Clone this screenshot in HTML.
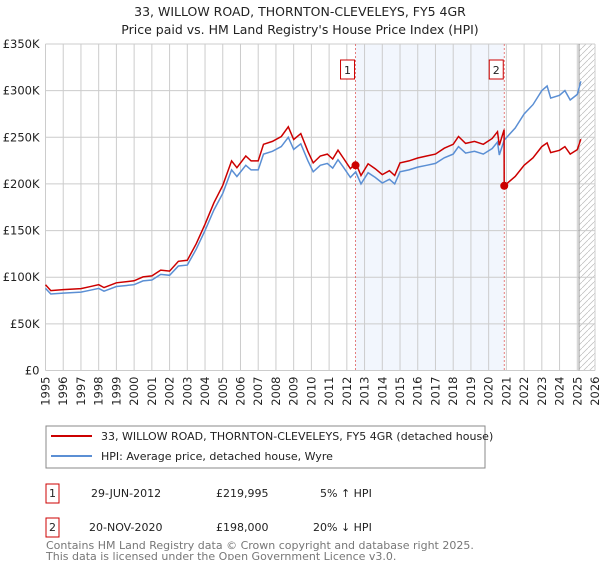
<!DOCTYPE html>
<html><head><meta charset="utf-8"><style>
body{margin:0;background:#fff;font-family:"Liberation Sans","DejaVu Sans",sans-serif;}
svg text{font-family:"DejaVu Sans","Liberation Sans",sans-serif;}
</style></head><body>
<svg id="c" width="600" height="560" xmlns="http://www.w3.org/2000/svg">
<text x="300" y="16" text-anchor="middle" font-size="12.5" fill="#222">33, WILLOW ROAD, THORNTON-CLEVELEYS, FY5 4GR</text>
<text x="300" y="34" text-anchor="middle" font-size="12.5" fill="#222">Price paid vs. HM Land Registry's House Price Index (HPI)</text>
<g id="plot"></g>
<g>
<rect x="46" y="426" width="439" height="42" fill="#fff" stroke="#888"/>
<line x1="51" y1="436" x2="92" y2="436" stroke="#cc0000" stroke-width="2"/>
<text x="101" y="440" font-size="11" fill="#222">33, WILLOW ROAD, THORNTON-CLEVELEYS, FY5 4GR (detached house)</text>
<line x1="51" y1="456" x2="92" y2="456" stroke="#5b8fd4" stroke-width="2"/>
<text x="101" y="460" font-size="11" fill="#222">HPI: Average price, detached house, Wyre</text>
</g>
<g font-size="11" fill="#222">
<rect x="46" y="484" width="13" height="19" fill="none" stroke="#cc0000"/>
<text x="49" y="497">1</text>
<text x="91" y="497">29-JUN-2012</text>
<text x="216" y="497">£219,995</text>
<text x="320" y="497">5% ↑ HPI</text>
<rect x="46" y="518" width="13" height="19" fill="none" stroke="#cc0000"/>
<text x="49" y="531">2</text>
<text x="89" y="531">20-NOV-2020</text>
<text x="216" y="531">£198,000</text>
<text x="313" y="531">20% ↓ HPI</text>
</g>
<text x="46" y="549" font-size="11" fill="#777">Contains HM Land Registry data © Crown copyright and database right 2025.</text>
<text x="46" y="560" font-size="11" fill="#777">This data is licensed under the Open Government Licence v3.0.</text>
</svg>
<script>
const yTicks=[0,50,100,150,200,250,300,350];
const yLabels=["£0","£50K","£100K","£150K","£200K","£250K","£300K","£350K"];
const xYears=[1995,1996,1997,1998,1999,2000,2001,2002,2003,2004,2005,2006,2007,2008,2009,2010,2011,2012,2013,2014,2015,2016,2017,2018,2019,2020,2021,2022,2023,2024,2025,2026];
const hpiT=[1995.0,1995.3,1996,1997,1997.5,1998,1998.3,1999,2000,2000.5,2001,2001.5,2002,2002.5,2003,2003.5,2004,2004.5,2005,2005.5,2005.8,2006.3,2006.6,2007,2007.3,2007.8,2008.3,2008.7,2009,2009.4,2009.8,2010.1,2010.5,2010.9,2011.2,2011.5,2011.8,2012.2,2012.5,2012.8,2013.2,2013.6,2014,2014.4,2014.7,2015,2015.5,2016,2016.5,2017,2017.5,2018,2018.3,2018.7,2019.2,2019.7,2020.2,2020.5,2020.6,2020.88,2021.5,2022,2022.5,2023,2023.3,2023.5,2024,2024.3,2024.6,2025,2025.2];
const hpiV=[88,82,83,84,86,88,85,90,92,96,97,103,102,112,113,130,150,172,190,215,208,220,215,215,232,235,240,250,237,243,225,213,220,222,217,226,218,207,213,200,212,207,201,205,200,213,215,218,220,222,228,232,240,233,235,232,238,245,231,247,260,275,285,300,305,292,295,300,290,296,310];
const sales=[{t:2012.49,v:219.995,label:"1"},{t:2020.88,v:198,label:"2"}];
const preRatio=1.045, postRatio=0.8;
const X0=45.5,X1=595,Y0=370.5,Y1=44,XR=595;
const xs=t=>X0+(t-1995)/(2026-1995)*(X1-X0);
const ys=v=>Y0-v/350*(Y0-Y1);
const NS="http://www.w3.org/2000/svg";
const g=document.getElementById('plot');
function mk(tag,attrs,parent){const e=document.createElementNS(NS,tag);for(const k in attrs)e.setAttribute(k,attrs[k]);(parent||g).appendChild(e);return e;}
let r=mk('rect',{x:xs(sales[0].t),y:Y1,width:xs(sales[1].t)-xs(sales[0].t),height:Y0-Y1,fill:"#f2f6fd"});


const defs=mk('defs',{});
const pat=mk('pattern',{id:"h",width:6,height:6,patternUnits:"userSpaceOnUse"},defs);
mk('path',{d:"M0,6 L6,0",stroke:"#bbb","stroke-width":0.7},pat);
let hz=mk('rect',{x:xs(2025.1),y:Y1,width:XR-xs(2025.1),height:Y0-Y1,fill:"url(#h)"});


yTicks.forEach((v,i)=>{
 let l=mk('line',{x1:X0,x2:XR,y1:ys(v),y2:ys(v),stroke:"#cccccc"});
 
 
 let t=mk('text',{x:X0-6,y:ys(v)+4,"text-anchor":"end","font-size":11.5,fill:"#222"});
 t.textContent=yLabels[i];
 
 
});
xYears.forEach(yr=>{
 let l=mk('line',{x1:xs(yr),x2:xs(yr),y1:Y1,y2:Y0,stroke:"#cccccc"});
 
 
 let t=mk('text',{transform:`translate(${xs(yr)+4},${Y0+6}) rotate(-90)`,"text-anchor":"end","font-size":11.5,fill:"#222"});
 t.textContent=yr;
 
 
});
let el=mk('line',{x1:xs(2025.1),x2:xs(2025.1),y1:Y1,y2:Y0,stroke:"#999"});


sales.forEach(s=>{
 let l=mk('line',{x1:xs(s.t),x2:xs(s.t),y1:Y1,y2:Y0,stroke:"#e06060","stroke-dasharray":"2,2","stroke-width":0.8});
 
 
 let b=mk('rect',{x:xs(s.t)-15,y:Y1+16,width:14,height:19,fill:"#fff",stroke:"#cc0000"});
 
 
 let t=mk('text',{x:xs(s.t)-8,y:Y1+30,"text-anchor":"middle","font-size":11,fill:"#222"});
 t.textContent=s.label;
 
 
});
const hp=hpiT.map((t,i)=>`${xs(t).toFixed(1)},${ys(hpiV[i]).toFixed(1)}`).join(' ');
let hl=mk('polyline',{points:hp,fill:"none",stroke:"#5b8fd4","stroke-width":1.5});


const rp=[];
hpiT.forEach((t,i)=>{
 if(t<sales[1].t) rp.push([t,hpiV[i]*preRatio]);
 else if(t===sales[1].t){rp.push([t-0.01,hpiV[i]*preRatio]);rp.push([t,sales[1].v]);}
 else rp.push([t,hpiV[i]*postRatio]);
});
let rl=mk('polyline',{points:rp.map(p=>`${xs(p[0]).toFixed(1)},${ys(p[1]).toFixed(1)}`).join(' '),fill:"none",stroke:"#cc0000","stroke-width":1.5});


sales.forEach(s=>{
 let c=mk('circle',{cx:xs(s.t),cy:ys(s.v),r:4,fill:"#cc0000"});
 
 
});
</script>
</body></html>
